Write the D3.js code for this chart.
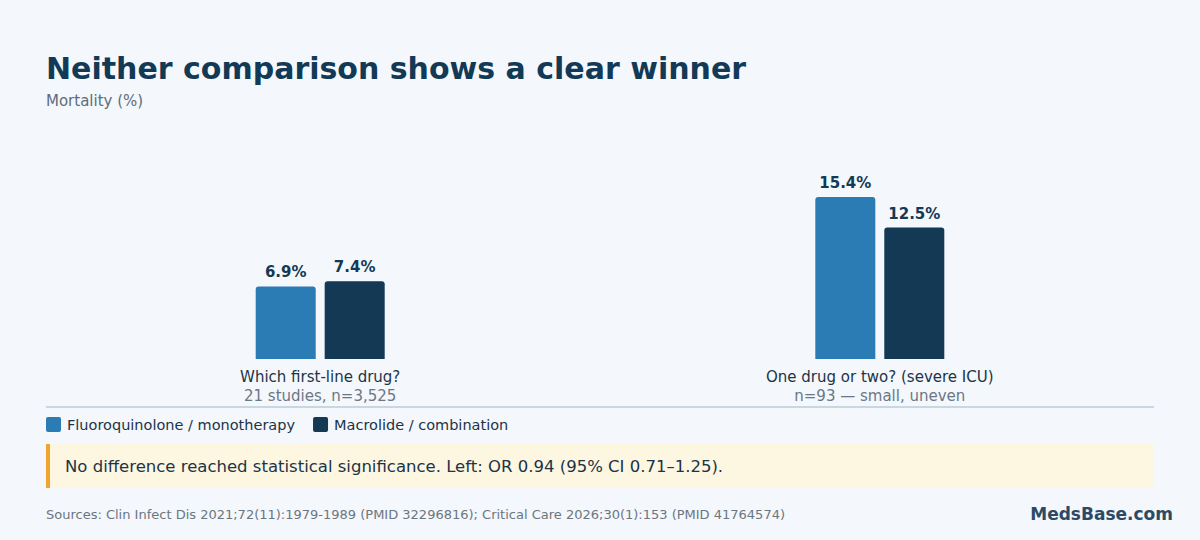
<!DOCTYPE html>
<html lang="en">
<head>
<meta charset="UTF-8">
<title>Neither comparison shows a clear winner</title>
<script src="https://d3js.org/d3.v7.min.js"></script>
<style>
  html, body { margin: 0; padding: 0; background: #f4f7fb; }
  svg { display: block; font-family: "DejaVu Sans", sans-serif; }
</style>
</head>
<body>
<svg id="chart" width="1200" height="540"></svg>
<script>
// data
const categories = ["Which first-line drug?", "One drug or two? (severe ICU)"];
const categoryNotes = ["21 studies, n=3,525", "n=93 \u2014 small, uneven"];
const series = ["Fluoroquinolone / monotherapy", "Macrolide / combination"];
const fluoroValues = [6.9, 15.4];
const macrolideValues = [7.4, 12.5];
const colors = ["#2b7bb4", "#133954"];

const W = 1200, H = 540;
const margin = {left: 46, right: 46};
const baseY = 359, topY = 197;

const svg = d3.select("#chart");
svg.append("rect").attr("width", W).attr("height", H).attr("fill", "#f4f7fb");

// title + subtitle
svg.append("text").attr("x", 46).attr("y", 79)
  .attr("font-size", 30).attr("font-weight", "bold").attr("fill", "#123a56")
  .text("Neither comparison shows a clear winner");
svg.append("text").attr("x", 46).attr("y", 106)
  .attr("font-size", 15).attr("fill", "#5d6d7c")
  .text("Mortality (%)");

const x0 = d3.scaleBand().domain(categories)
  .range([margin.left, W - margin.right]).paddingInner(0.02).paddingOuter(0);
const x1 = d3.scaleBand().domain(series).range([0, 129]).paddingInner(0.13);
const y = d3.scaleLinear().domain([0, d3.max([...fluoroValues, ...macrolideValues])])
  .range([baseY, topY]);

const rows = categories.map((c, i) => ({
  cat: c, note: categoryNotes[i],
  vals: [fluoroValues[i], macrolideValues[i]]
}));

// bar with rounded top corners only
function barPath(x, yTop, w, h, r) {
  return `M${x},${yTop + h}V${yTop + r}Q${x},${yTop} ${x + r},${yTop}` +
    `H${x + w - r}Q${x + w},${yTop} ${x + w},${yTop + r}V${yTop + h}Z`;
}

const g = svg.append("g");
const groups = g.selectAll("g.grp").data(rows).enter().append("g")
  .attr("class", "grp")
  .attr("transform", d => `translate(${x0(d.cat) + x0.bandwidth() / 2 - 64.5},0)`);

groups.selectAll("path").data(d => d.vals.map((v, j) => ({s: series[j], v, j})))
  .enter().append("path")
  .attr("fill", d => colors[d.j])
  .attr("d", d => barPath(x1(d.s), y(d.v), x1.bandwidth(), baseY - y(d.v), 3));

groups.selectAll("text.val").data(d => d.vals.map((v, j) => ({s: series[j], v})))
  .enter().append("text").attr("class", "val")
  .attr("x", d => x1(d.s) + x1.bandwidth() / 2)
  .attr("y", d => y(d.v) - 9)
  .attr("text-anchor", "middle").attr("font-size", 15).attr("font-weight", "bold")
  .attr("fill", "#123a56")
  .text(d => d.v.toFixed(1) + "%");

// category labels
rows.forEach(d => {
  const cx = x0(d.cat) + x0.bandwidth() / 2;
  svg.append("text").attr("x", cx).attr("y", 382).attr("text-anchor", "middle")
    .attr("font-size", 15).attr("fill", "#1b3448").text(d.cat);
  svg.append("text").attr("x", cx).attr("y", 401).attr("text-anchor", "middle")
    .attr("font-size", 15).attr("fill", "#6a7886").text(d.note);
});

// axis baseline
svg.append("line").attr("x1", 46).attr("x2", 1154).attr("y1", 407).attr("y2", 407)
  .attr("stroke", "#c9d7e3").attr("stroke-width", 2);

// legend
let lx = 46;
series.forEach((s, i) => {
  svg.append("rect").attr("x", lx).attr("y", 417).attr("width", 15).attr("height", 15)
    .attr("rx", 2).attr("fill", colors[i]);
  const t = svg.append("text").attr("x", lx + 21).attr("y", 430)
    .attr("font-size", 14.5).attr("fill", "#1b3448").text(s);
  lx += 21 + t.node().getComputedTextLength() + 18;
});

// note box
svg.append("rect").attr("x", 46).attr("y", 444).attr("width", 1108).attr("height", 44)
  .attr("fill", "#fdf6e1");
svg.append("rect").attr("x", 46).attr("y", 444).attr("width", 4).attr("height", 44)
  .attr("fill", "#f0a52c");
svg.append("text").attr("x", 65).attr("y", 472)
  .attr("font-size", 16.5).attr("fill", "#1b3448")
  .text("No difference reached statistical significance. Left: OR 0.94 (95% CI 0.71\u20131.25).");

// footer
svg.append("text").attr("x", 46).attr("y", 519)
  .attr("font-size", 13).attr("fill", "#6b7682")
  .text("Sources: Clin Infect Dis 2021;72(11):1979-1989 (PMID 32296816); Critical Care 2026;30(1):153 (PMID 41764574)");
svg.append("text").attr("x", 1173).attr("y", 520).attr("text-anchor", "end")
  .attr("font-size", 17).attr("font-weight", "bold").attr("fill", "#2c4a66")
  .text("MedsBase.com");
</script>
</body>
</html>
